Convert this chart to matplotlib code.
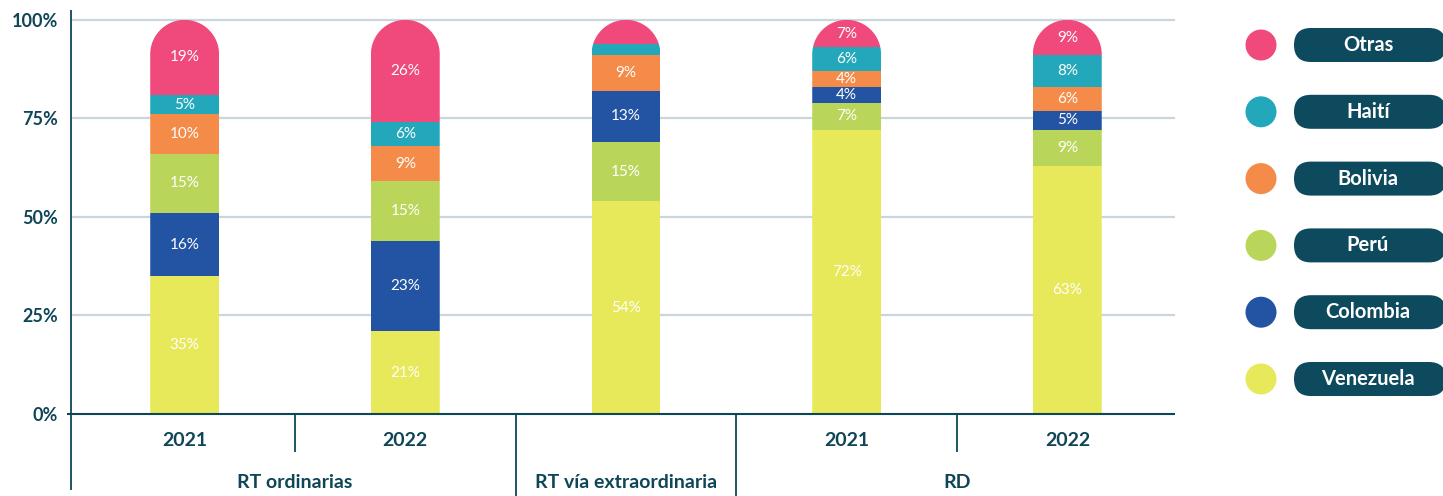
import matplotlib
matplotlib.use('Agg')
import matplotlib.pyplot as plt
import numpy as np
from matplotlib.path import Path
from matplotlib.patches import PathPatch, FancyBboxPatch, Circle

plt.rcParams['font.family'] = ['Lato', 'DejaVu Sans']

# ---------------- data ----------------
bar_years = ['2021', '2022', '', '2021', '2022']
groups = ['RT ordinarias', 'RT vía extraordinaria', 'RD']
group_bars = [[0, 1], [2], [3, 4]]

series = ['Venezuela', 'Colombia', 'Perú', 'Bolivia', 'Haití', 'Otras']
venezuela = [35, 21, 54, 72, 63]
colombia = [16, 23, 13, 4, 5]
peru = [15, 15, 15, 7, 9]
bolivia = [10, 9, 9, 4, 6]
haiti = [5, 6, 3, 6, 8]
otras = [19, 26, 6, 7, 9]
values = {'Venezuela': venezuela, 'Colombia': colombia, 'Perú': peru,
          'Bolivia': bolivia, 'Haití': haiti, 'Otras': otras}

order_a = ['Venezuela', 'Colombia', 'Perú', 'Bolivia', 'Haití', 'Otras']
order_b = ['Venezuela', 'Perú', 'Colombia', 'Bolivia', 'Haití', 'Otras']
stack_orders = [order_a, order_a, order_b, order_b, order_b]
unlabeled = {(2, 'Haití'), (2, 'Otras')}

legend_order = ['Otras', 'Haití', 'Bolivia', 'Perú', 'Colombia', 'Venezuela']
yticks = [0, 25, 50, 75, 100]
ytick_labels = ['0%', '25%', '50%', '75%', '100%']

# ---------------- style ----------------
colors = {'Otras': '#EF4A7B', 'Haití': '#23A7BA', 'Bolivia': '#F48B49',
          'Perú': '#BAD65A', 'Colombia': '#2353A3', 'Venezuela': '#E7E85A'}
dark = '#0E4658'
box_col = '#0D4A5D'
grid_col = '#C9D6DC'

W, H = 1443, 496
fig = plt.figure(figsize=(W / 100, H / 100), dpi=100)
ax = fig.add_axes([71 / W, 82 / H, 1104 / W, 404 / H])
ax.set_xlim(-0.515, 4.488)
ax.set_ylim(0, 102.5)
for sp in ax.spines.values():
    sp.set_visible(False)

ax.set_yticks(yticks)
ax.set_yticklabels(ytick_labels)
ax.tick_params(axis='y', length=0, pad=9.5, labelsize=13, labelcolor=dark)
for lbl in ax.get_yticklabels():
    lbl.set_fontweight('bold')
ax.set_xticks([])
ax.set_axisbelow(True)
for t in yticks[1:]:
    ax.axhline(t, color=grid_col, lw=1.6, zorder=0)

bar_w = 0.312
x = np.arange(len(bar_years))

# pixel scale to make circular caps
p0 = ax.transData.transform((0, 0))
p1 = ax.transData.transform((1, 1))
sx, sy = p1[0] - p0[0], p1[1] - p0[1]

for i in x:
    order = stack_orders[i]
    total = sum(values[s][i] for s in order)
    rx = bar_w / 2
    ry = rx * sx / sy
    th = np.linspace(np.pi, 0, 80)
    verts = [(i - rx, -1), (i - rx, total - ry)]
    verts += [(i + rx * np.cos(t), total - ry + ry * np.sin(t)) for t in th]
    verts += [(i + rx, -1), (i - rx, -1)]
    codes = [Path.MOVETO] + [Path.LINETO] * (len(verts) - 2) + [Path.CLOSEPOLY]
    clip = PathPatch(Path(verts, codes), transform=ax.transData, facecolor='none', edgecolor='none')
    bottom = 0
    for s in order:
        v = values[s][i]
        rects = ax.bar(i, v, bar_w, bottom=bottom, color=colors[s], linewidth=0, zorder=2)
        for r in rects:
            r.set_clip_path(clip)
        if (i, s) not in unlabeled:
            ax.text(i, bottom + v / 2, f'{v}%', ha='center', va='center',
                    color='white', fontsize=11, zorder=3)
        bottom += v

# axis lines
ax.plot([-4 / 1104, 1], [0, 0], transform=ax.get_yaxis_transform(), color=dark,
        lw=1.5, clip_on=False, zorder=4, solid_capstyle='butt')
ax.plot([0, 0], [-76 / 404, 1], transform=ax.transAxes, color=dark, lw=1.3,
        clip_on=False, zorder=4, solid_capstyle='butt')
xa = ax.get_xaxis_transform()
# separators
group_of = {b: g for g, bars in enumerate(group_bars) for b in bars}
for i in range(len(bar_years) - 1):
    same = group_of[i] == group_of[i + 1]
    ybot = -38 / 404 if same else -82 / 404
    ax.plot([i + 0.5, i + 0.5], [0, ybot], transform=xa, color=dark, lw=1.3,
            clip_on=False, solid_capstyle='butt')

for i, yr in enumerate(bar_years):
    if yr:
        ax.text(i, -27 / 404, yr, transform=xa, ha='center', va='center',
                fontsize=14, fontweight='bold', color=dark)
for g, bars in zip(groups, group_bars):
    ax.text(np.mean(bars), -69 / 404, g, transform=xa, ha='center', va='center',
            fontsize=14, fontweight='bold', color=dark)

# legend
lax = fig.add_axes([0, 0, 1, 1])
lax.set_xlim(0, W)
lax.set_ylim(H, 0)
lax.axis('off')
for k, s in enumerate(legend_order):
    yc = 45 + k * 66.8
    lax.add_patch(Circle((1261, yc), 15.5, color=colors[s], lw=0))
    lax.add_patch(FancyBboxPatch((1294, yc - 17), 152, 34,
                                 boxstyle='round,pad=0,rounding_size=17',
                                 facecolor=box_col, edgecolor='none'))
    lax.text(1368, yc, s, ha='center', va='center', color='white',
             fontsize=14.5, fontweight='bold')

fig.savefig('out.png', dpi=100)
